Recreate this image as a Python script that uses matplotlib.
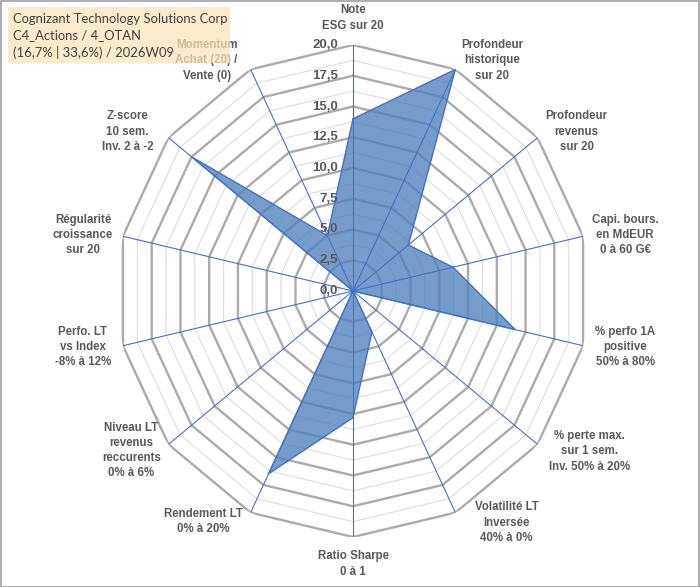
import numpy as np
import matplotlib
matplotlib.use("Agg")
import matplotlib.pyplot as plt
from matplotlib.transforms import offset_copy
from matplotlib.patches import FancyBboxPatch

# ---- data ----
categories = [
    "Note\nESG sur 20",
    "Profondeur\nhistorique\nsur 20",
    "Profondeur\nrevenus\nsur 20",
    "Capi. bours.\nen MdEUR\n0 à 60 G€",
    "% perfo 1A\npositive\n50% à 80%",
    "% perte max.\nsur 1 sem.\nInv. 50% à 20%",
    "Volatilité LT\nInversée\n40% à 0%",
    "Ratio Sharpe\n0 à 1",
    "Rendement LT\n0% à 20%",
    "Niveau LT\nrevenus\nreccurents\n0% à 6%",
    "Perfo. LT\nvs Index\n-8% à 12%",
    "Régularité\ncroissance\nsur 20",
    "Z-score\n10 sem.\nInv. 2 à -2",
    "Momentum\nAchat (20) /\nVente (0)",
]
values = [14.0, 20.0, 6.0, 8.7, 14.1, 0.0, 3.7, 10.3, 16.5, 0.0, 0.0, 0.0, 17.5, 5.0]
major_ticks = [0, 2.5, 5, 7.5, 10, 12.5, 15, 17.5, 20]
tick_labels = ["0,0", "2,5", "5,0", "7,5", "10,0", "12,5", "15,0", "17,5", "20,0"]
minor_ticks = [1.25, 3.75, 6.25, 8.75, 11.25, 13.75, 16.25, 18.75]
title_lines = ["Cognizant Technology Solutions Corp",
               "C4_Actions / 4_OTAN",
               "(16,7% | 33,6%) / 2026W09"]

# label offsets (pixels) from the outer vertex
label_offsets = [(0, 27), (37, 9), (39, 6), (42, 1), (42, -1), (52, -7), (51, -10),
                 (0, -27), (-47, -9), (-37, -6), (-40, -1), (-40, 1), (-41, 6), (-44, 9)]

W, H = 700, 587
fig = plt.figure(figsize=(W / 100, H / 100), dpi=100)
fig.patch.set_facecolor("white")

cx, cy, rh, rv = 353, 291, 236, 246
ax = fig.add_axes([(cx - rh) / W, (H - cy - rv) / H, 2 * rh / W, 2 * rv / H],
                  projection="polar")
ax.set_aspect("auto")
ax.set_theta_offset(np.pi / 2)
ax.set_theta_direction(-1)
ax.set_ylim(0, 20)
ax.set_xticks([])
ax.set_yticks([])
ax.grid(False)
ax.spines["polar"].set_visible(False)
ax.patch.set_visible(False)

n = len(categories)
theta = np.arange(n) * 2 * np.pi / n
theta_c = np.append(theta, theta[0])

for r in minor_ticks:
    ax.plot(theta_c, [r] * (n + 1), color="#DDDDDD", lw=0.8, zorder=1)
for r in major_ticks[1:]:
    ax.plot(theta_c, [r] * (n + 1), color="#ABABAB", lw=1.7, zorder=1.5)

vals_c = values + [values[0]]
ax.fill(theta_c, vals_c, facecolor="#4F81BD", alpha=0.78, zorder=2)
ax.plot(theta_c, vals_c, color="#4472C4", lw=1.0, zorder=3)

for t in theta:
    ax.plot([t, t], [0, 20], color="#4472C4", lw=0.8, zorder=4)

tick_tr = offset_copy(ax.transData, fig=fig, x=-15, y=0, units="dots")
for r, lab in zip(major_ticks, tick_labels):
    ax.text(0, r, lab, transform=tick_tr, ha="right", va="center",
            fontsize=9.5, fontweight="bold", color="#595959",
            family="Liberation Sans", zorder=5)

for t, lab, (dx, dy) in zip(theta, categories, label_offsets):
    ax.annotate(lab, xy=(t, 20), xytext=(dx, dy), textcoords="offset pixels",
                ha="center", va="center", multialignment="center",
                fontsize=8.3, fontweight="bold", color="#595959",
                family="Liberation Sans", linespacing=1.35, zorder=5,
                annotation_clip=False)

# title box overlaying the chart
box = FancyBboxPatch((8 / W, 1 - 63 / H), 222 / W, 56 / H, boxstyle="square,pad=0",
                     transform=fig.transFigure, facecolor="#FCE4B6", edgecolor="none",
                     alpha=0.72, zorder=10)
fig.patches.append(box)
fig.text(13 / W, 1 - 36 / H, "\n".join(title_lines), ha="left", va="center",
         fontsize=9.4, color="#404040", family="Lato", linespacing=1.45, zorder=11)

# outer frame
frame = plt.Rectangle((0.5 / W, 0.5 / H), 1 - 1.5 / W, 1 - 1.5 / H,
                      transform=fig.transFigure, fill=False, edgecolor="#A0A0A0", lw=1.2)
fig.patches.append(frame)

fig.savefig("out.png", dpi=100)
